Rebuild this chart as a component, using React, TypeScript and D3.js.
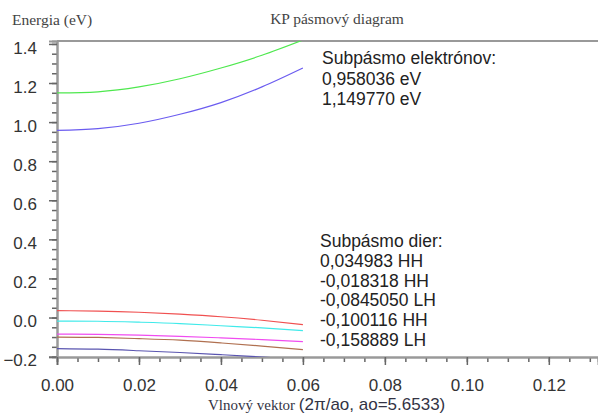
import React, { useEffect, useRef } from "react";
import * as d3 from "d3";

// wave vector samples (2π/ao)
const kValues = [0, 0.01, 0.02, 0.03, 0.04, 0.05, 0.06];

// electron subbands
const electron1 = [0.958, 0.967, 0.994, 1.04, 1.1, 1.18, 1.277];
const electron2 = [1.1498, 1.155, 1.18, 1.222, 1.277, 1.342, 1.42];

// hole subbands
const holeHH1 = [0.035, 0.033, 0.027, 0.017, 0.004, -0.014, -0.036];
const holeHH2 = [-0.0183, -0.019, -0.024, -0.031, -0.042, -0.053, -0.067];
const holeLH1 = [-0.0845, -0.086, -0.09, -0.096, -0.104, -0.113, -0.123];
const holeHH3 = [-0.1001, -0.102, -0.108, -0.116, -0.13, -0.146, -0.164];
const holeLH2 = [-0.1589, -0.162, -0.17, -0.179, -0.19, -0.202, -0.216];

const seriesList = [
  { name: "e1", values: electron1, color: "#6b5cf0" },
  { name: "e2", values: electron2, color: "#4ee84e" },
  { name: "hh1", values: holeHH1, color: "#f05050" },
  { name: "hh2", values: holeHH2, color: "#40eaea" },
  { name: "lh1", values: holeLH1, color: "#f04cf0" },
  { name: "hh3", values: holeHH3, color: "#b07050" },
  { name: "lh2", values: holeLH2, color: "#5a55b0" },
];

const yTicks = [-0.2, 0.0, 0.2, 0.4, 0.6, 0.8, 1.0, 1.2, 1.4];
const xTicks = [0, 0.02, 0.04, 0.06, 0.08, 0.1, 0.12];

const electronNotes = ["Subpásmo elektrónov:", "0,958036 eV", "1,149770 eV"];
const holeNotes = [
  "Subpásmo dier:",
  "0,034983 HH",
  "-0,018318 HH",
  "-0,0845050 LH",
  "-0,100116 HH",
  "-0,158889 LH",
];

const W = 598;
const H = 414;
const left = 57;
const right = 598;
const top = 41;
const bottom = 357;

const sans = "Liberation Sans, Arial, sans-serif";
const serif = "Liberation Serif, Times New Roman, serif";

const App = () => {
  const svgRef = useRef<SVGSVGElement>(null);

  const x = d3.scaleLinear().domain([0, 0.132]).range([left, right]);
  const y = d3.scaleLinear().domain([-0.202, 1.415]).range([bottom, top]);

  useEffect(() => {
    const svg = d3.select(svgRef.current);

    // minor ticks
    svg
      .select<SVGGElement>(".y-minor")
      .call(d3.axisLeft(y).tickValues(d3.range(-0.2, 1.41, 0.05)).tickSize(5).tickFormat(() => ""));
    svg
      .select<SVGGElement>(".x-minor")
      .call(d3.axisBottom(x).tickValues(d3.range(0, 0.1321, 0.005)).tickSize(5).tickFormat(() => ""));

    // major ticks with labels
    svg
      .select<SVGGElement>(".y-axis")
      .call(d3.axisLeft(y).tickValues(yTicks).tickSize(8).tickPadding(12).tickFormat(d3.format(".1f")));
    svg
      .select<SVGGElement>(".x-axis")
      .call(d3.axisBottom(x).tickValues(xTicks).tickSize(8).tickPadding(14).tickFormat(d3.format(".2f")));

    svg.selectAll(".tick line").attr("stroke", "#666").attr("stroke-width", 1.5);
    svg.selectAll(".domain").attr("stroke", "#999").attr("stroke-width", 2);
    svg
      .selectAll(".y-axis .tick text, .x-axis .tick text")
      .attr("font-family", sans)
      .attr("font-size", 17)
      .attr("fill", "#333");
    svg.selectAll(".y-axis .tick text").attr("dy", "0.55em");
  }, []);

  const bandLine = d3
    .line<number>()
    .x((_, i) => x(kValues[i]))
    .y((v) => y(v))
    .curve(d3.curveNatural);

  return (
    <svg ref={svgRef} width={W} height={H} style={{ position: "absolute", left: 0, top: 0 }}>
      <rect width={W} height={H} fill="#fff" />
      <defs>
        <clipPath id="plot">
          <rect x={left} y={top} width={right - left} height={bottom - top} />
        </clipPath>
      </defs>

      <text x={12} y={25} fontFamily={serif} fontSize={15.5} fill="#444">
        Energia (eV)
      </text>
      <text x={337} y={24} textAnchor="middle" fontFamily={serif} fontSize={15.5} fill="#444">
        KP pásmový diagram
      </text>

      {/* top frame line */}
      <rect x={left} y={top - 1} width={W - left} height={2} fill="#999" />

      <g className="y-minor" transform={`translate(${left},0)`} />
      <g className="x-minor" transform={`translate(0,${bottom})`} />
      <g className="y-axis" transform={`translate(${left},0)`} />
      <g className="x-axis" transform={`translate(0,${bottom})`} />

      <g clipPath="url(#plot)">
        {seriesList.map((s) => (
          <path
            key={s.name}
            d={bandLine(s.values) || ""}
            fill="none"
            stroke={s.color}
            strokeWidth={1.2}
          />
        ))}
      </g>

      {electronNotes.map((t, i) => (
        <text key={"e" + i} x={322} y={64 + i * 20.5} fontFamily={sans} fontSize={17.5} fill="#222">
          {t}
        </text>
      ))}
      {holeNotes.map((t, i) => (
        <text key={"h" + i} x={320} y={247 + i * 19.8} fontFamily={sans} fontSize={17.5} fill="#222">
          {t}
        </text>
      ))}

      <text x={208} y={410} fill="#334">
        <tspan fontFamily={serif} fontSize={15}>Vlnový vektor </tspan>
        <tspan fontFamily={sans} fontSize={17}>(2π/ao, ao=5.6533)</tspan>
      </text>
    </svg>
  );
};

export default App;
